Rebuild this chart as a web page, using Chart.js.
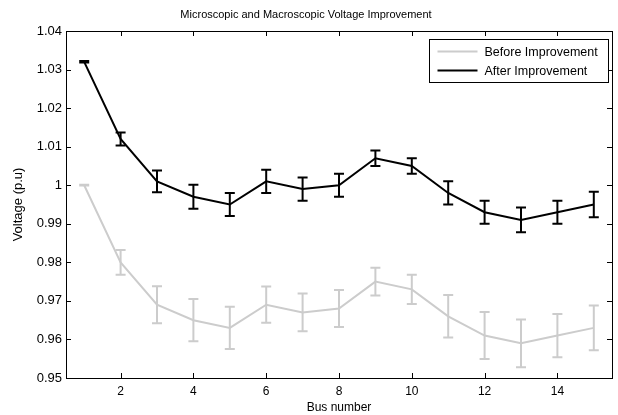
<!DOCTYPE html>
<html lang="en">
<head>
  <meta charset="UTF-8">
  <title>Microscopic and Macroscopic Voltage Improvement</title>
  <script src="https://cdn.jsdelivr.net/npm/chart.js"></script>
  <style>
    html, body {
      margin: 0;
      padding: 0;
      background-color: white;
    }
    .chart-container {
      position: relative;
      width: 618px;
      height: 415px;
    }
  </style>
</head>
<body>
  <div class="chart-container">
    <canvas id="voltageChart"></canvas>
  </div>

  <script>
    // Values
    const busNumbers = [1, 2, 3, 4, 5, 6, 7, 8, 9, 10, 11, 12, 13, 14, 15];
    const beforeVoltage = [1.000, 0.980, 0.969, 0.965, 0.963, 0.969, 0.967, 0.968, 0.975, 0.973, 0.966, 0.961, 0.959, 0.961, 0.963];
    const beforeError = [0.0001, 0.0032, 0.0048, 0.0055, 0.0055, 0.0047, 0.0049, 0.0048, 0.0036, 0.0038, 0.0055, 0.0061, 0.0062, 0.0056, 0.0058];
    const afterVoltage = [1.032, 1.012, 1.001, 0.997, 0.995, 1.001, 0.999, 1.000, 1.007, 1.005, 0.998, 0.993, 0.991, 0.993, 0.995];
    const afterError = [0.0002, 0.0017, 0.0028, 0.0031, 0.0030, 0.0030, 0.0030, 0.0030, 0.0020, 0.0020, 0.0030, 0.0030, 0.0032, 0.0030, 0.0033];
    const xTickValues = [2, 4, 6, 8, 10, 12, 14];
    const yTickValues = [0.95, 0.96, 0.97, 0.98, 0.99, 1.00, 1.01, 1.02, 1.03, 1.04];
    const seriesLabels = ['Before Improvement', 'After Improvement'];

    const FONT = "'Liberation Sans', Arial, Helvetica, sans-serif";
    const GRAY = '#cccccc';
    const BLACK = '#000000';

    const toPoints = (values) => values.map((v, i) => ({ x: busNumbers[i], y: v }));

    // Error bars, MATLAB-style box with inward ticks, and the boxed legend
    const matlabStyle = {
      id: 'matlabStyle',
      afterDatasetsDraw(chart) {
        const ctx = chart.ctx;
        const xScale = chart.scales.x;
        const yScale = chart.scales.y;
        chart.data.datasets.forEach((ds) => {
          ctx.save();
          ctx.strokeStyle = ds.borderColor;
          ctx.lineWidth = 2;
          ds.data.forEach((pt, i) => {
            const e = ds.errors[i];
            const px = xScale.getPixelForValue(pt.x);
            const yTop = yScale.getPixelForValue(pt.y + e);
            const yBot = yScale.getPixelForValue(pt.y - e);
            ctx.beginPath();
            ctx.moveTo(px, yTop);
            ctx.lineTo(px, yBot);
            ctx.moveTo(px - 5, yTop);
            ctx.lineTo(px + 5, yTop);
            ctx.moveTo(px - 5, yBot);
            ctx.lineTo(px + 5, yBot);
            ctx.stroke();
          });
          ctx.restore();
        });
      },
      afterDraw(chart) {
        const ctx = chart.ctx;
        const { left, right, top, bottom } = chart.chartArea;
        const xScale = chart.scales.x;
        const yScale = chart.scales.y;
        const tick = 5;

        ctx.save();
        ctx.strokeStyle = BLACK;
        ctx.lineWidth = 1;
        ctx.beginPath();
        xTickValues.forEach((v) => {
          const px = Math.round(xScale.getPixelForValue(v)) + 0.5;
          ctx.moveTo(px, bottom);
          ctx.lineTo(px, bottom - tick);
          ctx.moveTo(px, top);
          ctx.lineTo(px, top + tick);
        });
        yTickValues.forEach((v) => {
          const py = Math.round(yScale.getPixelForValue(v)) + 0.5;
          ctx.moveTo(left, py);
          ctx.lineTo(left + tick, py);
          ctx.moveTo(right, py);
          ctx.lineTo(right - tick, py);
        });
        ctx.stroke();
        ctx.strokeRect(Math.round(left) + 0.5, Math.round(top) + 0.5, Math.round(right - left), Math.round(bottom - top));

        // Legend box in the upper right corner of the axes
        const boxW = 179;
        const boxH = 43;
        const bx = Math.round(right) - 4 - boxW + 0.5;
        const by = Math.round(top) + 8 + 0.5;
        ctx.fillStyle = 'white';
        ctx.fillRect(bx, by, boxW, boxH);
        ctx.strokeRect(bx, by, boxW, boxH);
        ctx.font = '12.5px ' + FONT;
        ctx.textBaseline = 'middle';
        ctx.textAlign = 'left';
        chart.data.datasets.forEach((ds, i) => {
          const ly = by + 12 + i * 19;
          ctx.strokeStyle = ds.borderColor;
          ctx.lineWidth = 2;
          ctx.beginPath();
          ctx.moveTo(bx + 8, ly);
          ctx.lineTo(bx + 48, ly);
          ctx.stroke();
          ctx.fillStyle = BLACK;
          ctx.fillText(seriesLabels[i], bx + 55, ly + 1);
        });
        ctx.restore();
      }
    };

    const ctx = document.getElementById('voltageChart').getContext('2d');
    new Chart(ctx, {
      type: 'line',
      data: {
        datasets: [
          {
            label: seriesLabels[0],
            data: toPoints(beforeVoltage),
            errors: beforeError,
            borderColor: GRAY,
            borderWidth: 2,
            pointRadius: 0,
            tension: 0
          },
          {
            label: seriesLabels[1],
            data: toPoints(afterVoltage),
            errors: afterError,
            borderColor: BLACK,
            borderWidth: 2,
            pointRadius: 0,
            tension: 0
          }
        ]
      },
      options: {
        responsive: true,
        maintainAspectRatio: false,
        animation: false,
        layout: { padding: { left: 0, right: 6, top: 0, bottom: 0 } },
        plugins: {
          legend: { display: false },
          tooltip: { enabled: false },
          title: {
            display: true,
            text: 'Microscopic and Macroscopic Voltage Improvement',
            color: BLACK,
            font: { family: FONT, size: 11, weight: 'normal', lineHeight: 1.2 },
            padding: { top: 8, bottom: 9.8 }
          }
        },
        scales: {
          x: {
            type: 'linear',
            min: 0.5,
            max: 15.5,
            afterBuildTicks: (scale) => { scale.ticks = xTickValues.map((v) => ({ value: v })); },
            afterFit: (scale) => { scale.height = 37; },
            grid: { display: false, drawTicks: false },
            border: { display: false },
            ticks: {
              color: BLACK,
              font: { family: FONT, size: 12 },
              padding: 6,
              maxRotation: 0,
              autoSkip: false
            },
            title: {
              display: true,
              text: 'Bus number',
              color: BLACK,
              font: { family: FONT, size: 12 },
              padding: { top: 0, bottom: 0 }
            }
          },
          y: {
            type: 'linear',
            min: 0.95,
            max: 1.04,
            afterBuildTicks: (scale) => { scale.ticks = yTickValues.map((v) => ({ value: v })); },
            afterFit: (scale) => { scale.width = 66; },
            grid: { display: false, drawTicks: false },
            border: { display: false },
            ticks: {
              color: BLACK,
              font: { family: FONT, size: 13 },
              padding: 4,
              autoSkip: false,
              callback: (v) => String(Number(v.toFixed(2)))
            },
            title: {
              display: true,
              text: 'Voltage (p.u)',
              color: BLACK,
              font: { family: FONT, size: 13 },
              padding: { top: 11, bottom: 11 }
            }
          }
        }
      },
      plugins: [matlabStyle]
    });
  </script>
</body>
</html>
